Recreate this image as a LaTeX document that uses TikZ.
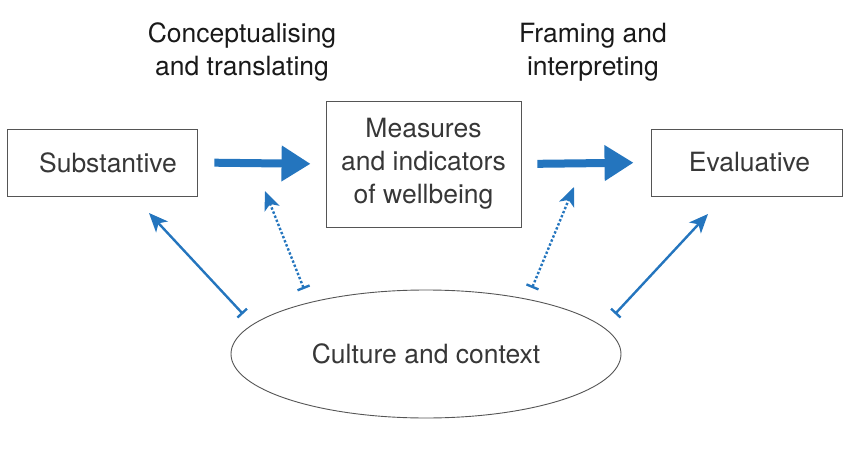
\documentclass[tikz,border=0pt]{standalone}
\usepackage{fontspec}
\setmainfont{TeX Gyre Heros}
\usetikzlibrary{arrows.meta,shapes.geometric}
\definecolor{flowblue}{RGB}{36,117,190}
\definecolor{textgrey}{RGB}{55,55,55}
\begin{document}
\begin{tikzpicture}[x=1pt,y=-1pt,
  every node/.style={font=\fontsize{26.5}{33}\selectfont, text=textgrey},
  box/.style={draw=textgrey!85, line width=0.9pt, inner sep=0pt},
  oval/.style={ellipse, draw=textgrey!85, line width=0.9pt, inner sep=0pt},
  heading/.style={align=center, text=black!90},
  bigarrow/.style={draw=flowblue, line width=8pt, -{Triangle[length=29pt,width=34pt]}},
  influence/.style={draw=flowblue, line width=2.4pt, {Bar[width=13pt]}-{Stealth[length=19pt,width=16pt,inset=5pt]}},
  softinfluence/.style={influence, dotted}]
  \useasboundingbox (0,0) rectangle (849,452);

  % stages of the framework
  \node[box, minimum width=190pt, minimum height=67pt] (subst) at (102,162.5) {\hspace*{12pt}Substantive};
  \node[box, minimum width=195pt, minimum height=126pt, align=center] (meas) at (423.5,164) {Measures\\and indicators\\of wellbeing};
  \node[box, minimum width=191pt, minimum height=67pt] (evalu) at (746.5,162.5) {\hspace*{6pt}Evaluative};
  \node[oval, minimum width=390pt, minimum height=128pt] (cult) at (426,354) {Culture and context};

  % process labels
  \node[heading] (concept) at (242,52) {Conceptualising\\and translating};
  \node[heading] (frame) at (593,52) {Framing and\\interpreting};

  % main flow
  \draw[bigarrow, shorten <=17pt, shorten >=15pt] (subst.east) -- (meas.west);
  \draw[bigarrow, shorten <=16pt, shorten >=17pt] (meas.east) -- (evalu.west);

  % influence of culture and context
  \coordinate (c1) at (243,314);
  \coordinate (t1) at (149,213);
  \coordinate (c2) at (304,289);
  \coordinate (t2) at (265,191);
  \coordinate (c3) at (532,288);
  \coordinate (t3) at (574,187);
  \coordinate (c4) at (615,314);
  \coordinate (t4) at (708,214);
  \draw[influence] (c1) -- (t1);
  \draw[softinfluence] (c2) -- (t2);
  \draw[softinfluence] (c3) -- (t3);
  \draw[influence] (c4) -- (t4);
\end{tikzpicture}
\end{document}
